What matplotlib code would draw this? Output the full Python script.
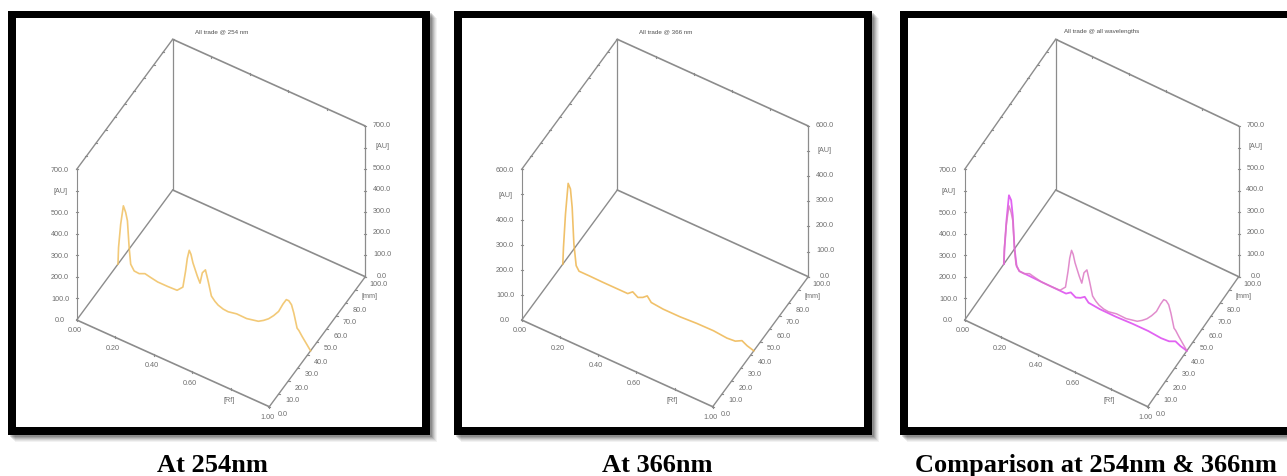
# TLC densitogram panels, all tracks at 254 and 366 nm

import matplotlib
matplotlib.use('Agg')
import matplotlib.pyplot as plt
from matplotlib.patches import Rectangle

plt.rcParams['font.family'] = ['Liberation Sans', 'DejaVu Sans']

# Track scanned at 254 nm
rf_254 = [0, .003, .014, .028, .040, .049, .058, .066, .084, .110, .140, .171, .206, .258, .307,
          .337, .351, .360, .370, .379, .389, .412, .426, .438, .454, .468, .485, .503, .520, .546, .572,
          .616, .668, .729, .756, .782, .808, .834, .857, .874, .887, .901, .913, .930, .939, .956, 1.0]
au_254 = [0, 79, 191, 282, 256, 221, 100, 26, 2, 0, 12, 6, 0, 0, 2,
          29, 109, 172, 213, 198, 163, 110, 83, 136, 156, 110, 47, 30, 19, 11, 9,
          17, 16, 28, 43, 61, 86, 116, 160, 187, 187, 174, 140, 77, 70, 49, 0]

# Track scanned at 366 nm
rf_366 = [0, .0035, .014, .028, .040, .049, .058, .070, .085, .137, .208, .278, .340, .366, .393,
          .419, .442, .463, .525, .613, .701, .789, .859, .903, .938, .965, 1.0]
au_366 = [0, 68, 204, 331, 313, 243, 100, 18, 1, 1, 0, 0, 0, 16, 3,
          12, 26, 7, 2, 2, 6, 7, 2, 5, 19, 8, 0]

track_mm = 43

rf_ticks = [0.0, 0.2, 0.4, 0.6, 0.8, 1.0]
rf_labels = ['0.00', '0.20', '0.40', '0.60', '[Rf]', '1.00']
mm_ticks = [0, 10, 20, 30, 40, 50, 60, 70, 80, 90, 100]
mm_labels = ['0.0', '10.0', '20.0', '30.0', '40.0', '50.0', '60.0', '70.0', '80.0', '[mm]', '100.0']
au_ticks_700 = [0, 100, 200, 300, 400, 500, 600, 700]
au_labels_700 = ['0.0', '100.0', '200.0', '300.0', '400.0', '500.0', '[AU]', '700.0']
au_ticks_600 = [0, 100, 200, 300, 400, 500, 600]
au_labels_600 = ['0.0', '100.0', '200.0', '300.0', '400.0', '[AU]', '600.0']

AXIS = '#8c8c8c'
TEXT = '#6e6e6e'
LABEL_SIZE = 5.2

fig = plt.figure(figsize=(12.87, 4.76), dpi=100, facecolor='white')
ax = fig.add_axes([0, 0, 1, 1])
ax.set_xlim(0, 1287)
ax.set_ylim(476, 0)
ax.axis('off')


def draw_frame(x0, x1):
    # soft drop shadow, then black border and white plot area
    for off, a in [(7, .05), (6, .06), (5, .08), (4, .1), (3, .12), (2, .14)]:
        ax.add_patch(Rectangle((x0 + off, 10.7 + off), x1 - x0, 424.3, fc='k', ec='none', alpha=a))
    ax.add_patch(Rectangle((x0, 10.7), x1 - x0, 424.3, fc='black', ec='none'))
    ax.add_patch(Rectangle((x0 + 7.6, 18.3), x1 - x0 - 15.2, 409, fc='white', ec='none'))


def draw_panel(ox, rx, dx, title, au_max, au_ticks, au_labels, tracks, title_x):
    oy, ry, dy, h = 320, 406.7, 190, 150.7

    def proj(rf, mm, au):
        x = ox + rf * (rx - ox) + mm / 100 * (dx - ox)
        y = oy + rf * (ry - oy) + mm / 100 * (dy - oy) - au / au_max * h
        return x, y

    def seg(a, b, lw=1.2):
        p, q = proj(*a), proj(*b)
        ax.plot([p[0], q[0]], [p[1], q[1]], color=AXIS, lw=lw, solid_capstyle='round')

    # box edges
    seg((0, 0, 0), (1, 0, 0))
    seg((1, 0, 0), (1, 100, 0), 1.0)
    seg((0, 0, 0), (0, 100, 0), 1.0)
    seg((0, 100, 0), (1, 100, 0))
    seg((0, 0, 0), (0, 0, au_max), .8)
    seg((0, 100, 0), (0, 100, au_max), .9)
    seg((1, 100, 0), (1, 100, au_max), .9)
    seg((0, 0, au_max), (0, 100, au_max), 1.0)
    seg((0, 100, au_max), (1, 100, au_max))

    # ticks and labels
    for t, lab in zip(rf_ticks, rf_labels):
        x, y = proj(t, 0, 0)
        ax.plot([x, x], [y - 1, y + 1], color=AXIS, lw=.8)
        ax.text(x - 2, y + 11, lab, fontsize=LABEL_SIZE, color=TEXT, ha='center', va='center')
        if 0 < t < 1:
            x, y = proj(t, 100, au_max)
            ax.plot([x, x], [y - 1, y + 1], color=AXIS, lw=.8)
    for t, lab in zip(mm_ticks, mm_labels):
        x, y = proj(1, t, 0)
        ax.plot([x - 1, x + 1], [y, y], color=AXIS, lw=.8)
        ax.text(x + 13.5, y + 7.3, lab, fontsize=LABEL_SIZE, color=TEXT, ha='center', va='center')
        x, y = proj(0, t, au_max)
        ax.plot([x - 1, x + 1], [y, y], color=AXIS, lw=.8)
    for t, lab in zip(au_ticks, au_labels):
        x, y = proj(0, 0, t)
        ax.plot([x - 1, x + 1], [y, y], color=AXIS, lw=.8)
        ax.text(x - 16.7, y + 1, lab, fontsize=LABEL_SIZE, color=TEXT, ha='center', va='center')
        x, y = proj(1, 100, t)
        ax.plot([x - 1, x + 1], [y, y], color=AXIS, lw=.8)
        ax.text(x + 16.7, y - .7, lab, fontsize=LABEL_SIZE, color=TEXT, ha='center', va='center')

    ax.text(title_x, 31.5, title, fontsize=4.5, color='#505050', ha='center', va='center')

    for rf, au, color, lw in tracks:
        pts = [proj(r, track_mm, a) for r, a in zip(rf, au)]
        ax.plot([p[0] for p in pts], [p[1] for p in pts], color=color, lw=lw,
                solid_joinstyle='round', alpha=.85)


draw_frame(8, 430)
draw_frame(454, 871.7)
draw_frame(900, 1300)

draw_panel(76.7, 269.3, 172.7, 'All trade @ 254 nm', 700, au_ticks_700, au_labels_700,
           [(rf_254, au_254, '#f0c060', 1.2)], 221.5)
draw_panel(521.7, 712.7, 617.3, 'All trade @ 366 nm', 600, au_ticks_600, au_labels_600,
           [(rf_366, au_366, '#eeb650', 1.2)], 666)
draw_panel(964.7, 1147.7, 1055.7, 'All trade @ all wavelengths', 700, au_ticks_700, au_labels_700,
           [(rf_366, au_366, '#dc48f0', 1.3), (rf_254, au_254, '#dc78c4', 1.1)], 1102)

for x, cap in [(212, 'At 254nm'), (657, 'At 366nm'), (1096, 'Comparison at 254nm & 366nm')]:
    ax.text(x, 472, cap, fontsize=19, fontweight='bold', family='Liberation Serif',
            ha='center', va='baseline', color='black')

plt.savefig('out.png', dpi=100)
